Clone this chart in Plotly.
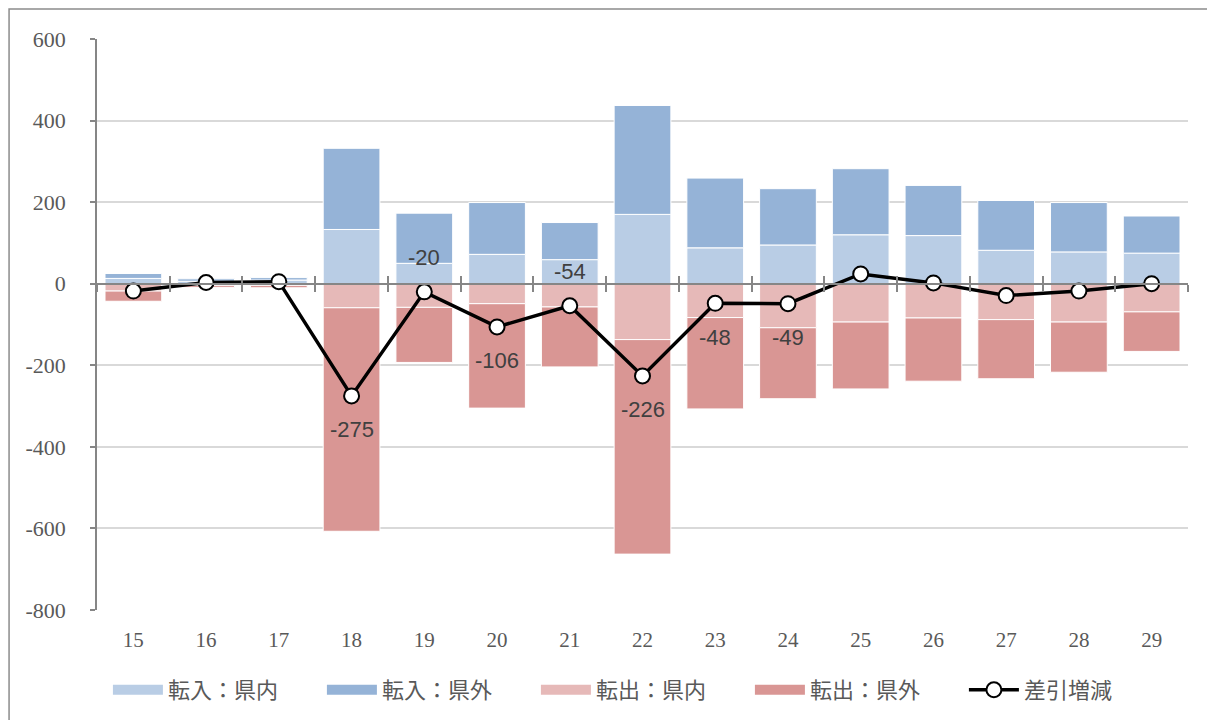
import plotly.graph_objects as go

categories = [15, 16, 17, 18, 19, 20, 21, 22, 23, 24, 25, 26, 27, 28, 29]
in_pref = [13, 6, 9, 133, 50, 72, 59, 170, 88, 95, 120, 118, 82, 78, 75]
in_out = [12, 6, 6, 199, 123, 127, 91, 267, 171, 138, 162, 123, 122, 121, 91]
out_pref = [-18, -4, -4, -59, -58, -49, -57, -137, -83, -108, -94, -84, -88, -94, -69]
out_out = [-25, -5, -6, -548, -135, -256, -147, -526, -224, -174, -164, -155, -145, -123, -97]
diff = [-18, 3, 5, -275, -20, -106, -54, -226, -48, -49, 24, 2, -29, -18, 0]
label_text = ["", "", "", "-275", "-20", "-106", "-54", "-226", "-48", "-49", "", "", "", "", ""]
label_side = ["", "", "", "below", "above", "below", "above", "below", "below", "below", "", "", "", "", ""]
y_ticks = [600, 400, 200, 0, -200, -400, -600, -800]
y_tick_text = ["600", "400", "200", "0", "-200", "-400", "-600", "-800"]
series_names = ["転入：県内", "転入：県外", "転出：県内", "転出：県外"]
series_colors = ["#b9cde5", "#95b3d7", "#e6b9b8", "#d99694"]
boundaries = [c - 0.5 for c in categories] + [categories[-1] + 0.5]

Y_MIN, Y_MAX = -800, 600
X_MIN, X_MAX = categories[0] - 0.5, categories[-1] + 0.5

axis_gray = "#868686"
grid_gray = "#d9d9d9"
text_gray = "#595959"

fig = go.Figure()
bar_line = dict(color="white", width=1)
for vals, name, col in zip([in_pref, in_out, out_pref, out_out], series_names, series_colors):
    fig.add_trace(go.Bar(x=categories, y=vals, name=name, showlegend=False,
                         marker=dict(color=col, line=bar_line)))
# legend entries drawn as wide swatches
for name, col in zip(series_names, series_colors):
    fig.add_trace(go.Scatter(x=[None], y=[None], name=name, mode="lines",
                             line=dict(color=col, width=11), hoverinfo="skip"))
fig.add_trace(go.Scatter(x=categories, y=diff, name="差引増減", mode="lines+markers",
                         line=dict(color="black", width=3.5),
                         marker=dict(symbol="circle", size=15, color="white",
                                     line=dict(color="black", width=2))))
# helper traces so the zero-line axes are drawn
for ax in ["x2", "x3"]:
    fig.add_trace(go.Scatter(x=categories, y=diff, xaxis=ax, mode="none",
                             showlegend=False, hoverinfo="skip"))

for c, d, t, s in zip(categories, diff, label_text, label_side):
    if t:
        fig.add_annotation(x=c, y=d, text=t, showarrow=False,
                           yshift=34 if s == "above" else -34,
                           font=dict(family="Liberation Sans, Arial", size=22, color="#404040"))

zero_pos = (0 - Y_MIN) / (Y_MAX - Y_MIN)
common_zero_axis = dict(range=[X_MIN, X_MAX], overlaying="x", anchor="free", position=zero_pos,
                        tickmode="array", tickvals=boundaries, ticktext=[""] * len(boundaries),
                        showgrid=False, zeroline=False, showline=True, linecolor=axis_gray,
                        linewidth=2, tickcolor=axis_gray, tickwidth=2, ticklen=7)

fig.update_layout(
    width=1207, height=712,
    paper_bgcolor="white", plot_bgcolor="white",
    margin=dict(l=89, r=27, t=31, b=110, autoexpand=False),
    barmode="relative", bargap=0.22,
    showlegend=True,
    legend=dict(orientation="h", x=0.01, xanchor="left", y=-0.14, yanchor="middle",
                font=dict(family="Noto Sans CJK JP", size=22, color=text_gray),
                entrywidth=149, entrywidthmode="pixels", traceorder="normal",
                itemwidth=50),
    xaxis=dict(range=[X_MIN, X_MAX], tickmode="array", tickvals=categories,
               ticktext=[str(c) for c in categories], showgrid=False, zeroline=False,
               showline=False, ticks="", ticklabelstandoff=15,
               tickfont=dict(family="Liberation Serif, Times New Roman", size=21, color=text_gray)),
    xaxis2=dict(common_zero_axis, ticks="outside", side="bottom"),
    xaxis3=dict(common_zero_axis, ticks="inside", side="bottom"),
    yaxis=dict(range=[Y_MIN, Y_MAX], tickmode="array", tickvals=y_ticks, ticktext=y_tick_text,
               showgrid=True, gridcolor=grid_gray, gridwidth=1.5, zeroline=False,
               showline=True, linecolor=axis_gray, linewidth=1.5,
               ticks="outside", ticklen=5, tickcolor=axis_gray, tickwidth=1.5,
               ticklabelstandoff=20,
               tickfont=dict(family="Liberation Serif, Times New Roman", size=22, color=text_gray)),
)

# outer chart frame
fig.add_shape(type="rect", xref="paper", yref="paper", x0=-0.0806, x1=1.2, y0=-0.4, y1=1.0525,
              line=dict(color="#8c8c8c", width=1.5), fillcolor="rgba(0,0,0,0)", layer="below")

fig.write_html("out.html")
